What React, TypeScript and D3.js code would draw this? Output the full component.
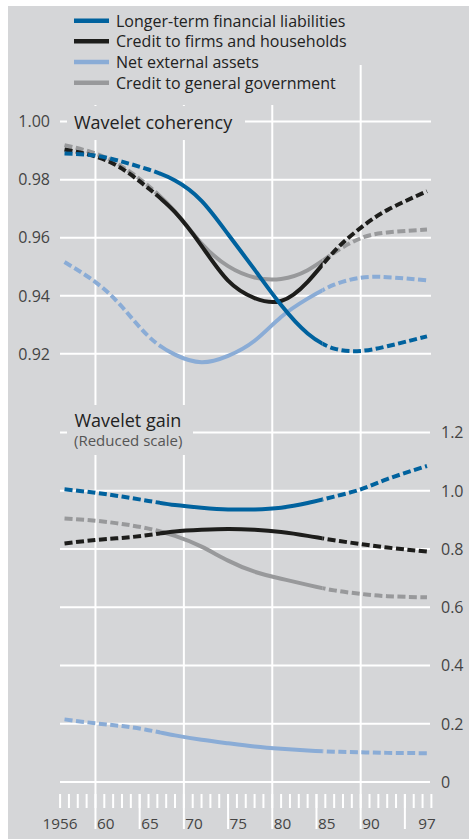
import React from "react";
import * as d3 from "d3";

// ---------- DATA ----------
const seriesNames = [
  "Longer-term financial liabilities",
  "Credit to firms and households",
  "Net external assets",
  "Credit to general government",
];
const seriesColors = ["#00629e", "#1d1d1b", "#8aacd6", "#98999b"];

const years = [1956.5, 1960, 1963, 1966, 1969, 1972, 1975, 1978, 1981, 1984, 1987, 1990, 1993, 1997.5];

// Wavelet coherency
const cohLongerTerm = [0.989, 0.9883, 0.9862, 0.9835, 0.9797, 0.9727, 0.9612, 0.949, 0.9368, 0.927, 0.9218, 0.921, 0.9226, 0.926];
const cohCreditFirms = [0.9904, 0.988, 0.9838, 0.977, 0.9688, 0.9572, 0.9452, 0.9392, 0.9382, 0.9448, 0.9553, 0.9634, 0.9695, 0.976];
const cohNetExternal = [0.9516, 0.9447, 0.9362, 0.926, 0.9197, 0.9171, 0.9193, 0.9245, 0.9327, 0.939, 0.9438, 0.9462, 0.9464, 0.9453];
const cohCreditGov = [0.9919, 0.989, 0.9845, 0.9778, 0.969, 0.958, 0.9502, 0.9463, 0.9458, 0.9488, 0.9548, 0.9598, 0.9618, 0.9628];

// Wavelet gain
const gainLongerTerm = [1.005, 0.993, 0.98, 0.965, 0.951, 0.942, 0.936, 0.936, 0.942, 0.958, 0.98, 1.005, 1.04, 1.085];
const gainCreditFirms = [0.819, 0.831, 0.838, 0.848, 0.86, 0.866, 0.869, 0.866, 0.858, 0.845, 0.83, 0.817, 0.805, 0.791];
const gainNetExternal = [0.215, 0.2015, 0.192, 0.178, 0.16, 0.145, 0.133, 0.122, 0.114, 0.108, 0.104, 0.102, 0.1, 0.099];
const gainCreditGov = [0.905, 0.897, 0.886, 0.87, 0.845, 0.808, 0.76, 0.722, 0.698, 0.677, 0.658, 0.646, 0.638, 0.634];

// solid (reliable) part of the estimates
const solidStart = 1967.3;
const solidEnd = 1985.7;

const cohTicks = [0.92, 0.94, 0.96, 0.98, 1.0];
const gainTicks = [0, 0.2, 0.4, 0.6, 0.8, 1.0, 1.2];
const gainTickLabels = ["0", "0.2", "0.4", "0.6", "0.8", "1.0", "1.2"];
const gridYears = [1960, 1970, 1980, 1990];
const midYears = [1965, 1975, 1985, 1995];
const yearLabels = ["1956", "60", "65", "70", "75", "80", "85", "90", "97"];
const yearLabelYears = [1956, 1960, 1965, 1970, 1975, 1980, 1985, 1990, 1997];

// ---------- LAYOUT ----------
const W = 469;
const H = 839;
const BG = "#d5d6d8";
const TEXT = "#222222";
const FONT = "'Open Sans', 'Noto Sans', sans-serif";

export default function App() {
  const x = d3.scaleLinear().domain([1956, 1998]).range([60.1, 431.4]);
  const yTop = d3.scaleLinear().domain([0.92, 1.0]).range([353.8, 121.6]);
  const yBot = d3.scaleLinear().domain([0, 1.2]).range([782, 432.5]);

  const cohSeries = [cohLongerTerm, cohCreditFirms, cohNetExternal, cohCreditGov];
  const gainSeries = [gainLongerTerm, gainCreditFirms, gainNetExternal, gainCreditGov];
  const drawOrder = [3, 2, 1, 0];

  const lineFor = (y: d3.ScaleLinear<number, number>) =>
    d3
      .line<number>()
      .x((_, i) => x(years[i]))
      .y((d) => y(d))
      .curve(d3.curveNatural);

  const topLine = lineFor(yTop);
  const botLine = lineFor(yBot);

  const allTickYears = d3.range(1956, 1999);
  const gx0 = 60;
  const gx1 = 431;

  const xs = x(solidStart);
  const xe = x(solidEnd);

  const renderSeries = (vals: number[], gen: any, idx: number, key: string) => (
    <g key={key}>
      <path
        d={gen(vals) || ""}
        fill="none"
        stroke={seriesColors[idx]}
        strokeWidth={4}
        strokeDasharray="8 3.5"
        clipPath="url(#dashClip)"
      />
      <path
        d={gen(vals) || ""}
        fill="none"
        stroke={seriesColors[idx]}
        strokeWidth={4}
        clipPath="url(#solidClip)"
      />
    </g>
  );

  const labelX = (yr: number, i: number) => {
    if (i === 0) return { x: x(yr), anchor: "middle" };
    if (i === yearLabelYears.length - 1) return { x: x(yr + 0.5), anchor: "middle" };
    return { x: x(yr) + 1.5, anchor: "start" };
  };

  return (
    <div style={{ position: "absolute", left: 0, top: 0, width: W, height: H }}>
      <svg width={W} height={H} style={{ display: "block", fontFamily: FONT }}>
        <defs>
          <clipPath id="solidClip">
            <rect x={xs} y={0} width={xe - xs} height={H} />
          </clipPath>
          <clipPath id="dashClip">
            <rect x={0} y={0} width={xs} height={H} />
            <rect x={xe} y={0} width={W - xe} height={H} />
          </clipPath>
        </defs>
        <rect x={0} y={0} width={W} height={H} fill="#ffffff" />
        <rect x={8} y={6} width={W - 8} height={H - 6} fill={BG} />

        {/* vertical grid lines */}
        {gridYears.map((yr) => (
          <line key={"vg" + yr} x1={x(yr)} x2={x(yr)} y1={65} y2={829} stroke="#fff" strokeWidth={2} />
        ))}
        {/* mid-decade ticks */}
        {midYears.map((yr) => (
          <line key={"mt" + yr} x1={x(yr)} x2={x(yr)} y1={794} y2={829} stroke="#fff" strokeWidth={2} />
        ))}
        {/* yearly ticks */}
        {allTickYears.map((yr) => (
          <line key={"yt" + yr} x1={x(yr)} x2={x(yr)} y1={794} y2={808} stroke="#fff" strokeWidth={2} />
        ))}

        {/* horizontal grid lines */}
        {cohTicks.map((v) => (
          <line key={"ht" + v} x1={gx0} x2={gx1} y1={yTop(v)} y2={yTop(v)} stroke="#fff" strokeWidth={2} />
        ))}
        {gainTicks.map((v) => (
          <line key={"hb" + v} x1={gx0} x2={gx1 - 1} y1={yBot(v)} y2={yBot(v)} stroke="#fff" strokeWidth={2} />
        ))}

        {/* background boxes behind legend and titles */}
        <rect x={60} y={6} width={292} height={99} fill={BG} />
        <rect x={67} y={106} width={178} height={34} fill={BG} />
        <rect x={67} y={405} width={126} height={50} fill={BG} />

        {/* left axis labels */}
        {cohTicks.map((v) => (
          <text key={"lt" + v} x={50} y={yTop(v)} dy="0.36em" textAnchor="end" fontSize={16} fill="#444">
            {v.toFixed(2)}
          </text>
        ))}
        {/* right axis labels */}
        {gainTicks.map((v, i) => (
          <text key={"rt" + v} x={441} y={yBot(v)} dy="0.36em" textAnchor="start" fontSize={16} fill="#444">
            {gainTickLabels[i]}
          </text>
        ))}
        {/* bottom year labels */}
        {yearLabels.map((lab, i) => {
          const p = labelX(yearLabelYears[i], i);
          return (
            <text key={"yl" + lab} x={p.x} y={828.5} textAnchor={p.anchor as any} fontSize={15.3} fill="#444">
              {lab}
            </text>
          );
        })}

        {/* titles */}
        <text x={74} y={128.5} fontSize={18} fill={TEXT}>
          Wavelet coherency
        </text>
        <text x={74.5} y={427} fontSize={18} fill={TEXT}>
          Wavelet gain
        </text>
        <text x={74} y={446} fontSize={15} fill="#555">
          (Reduced scale)
        </text>

        {/* series */}
        {drawOrder.map((i) => renderSeries(cohSeries[i], topLine, i, "c" + i))}
        {drawOrder.map((i) => renderSeries(gainSeries[i], botLine, i, "g" + i))}

        {/* legend */}
        {seriesNames.map((name, i) => {
          const by = 26.7 + i * 20.67;
          return (
            <g key={"lg" + i}>
              <line x1={74} x2={109} y1={by - 6} y2={by - 6} stroke={seriesColors[i]} strokeWidth={4.5} />
              <text x={116} y={by} fontSize={16} fill={TEXT}>
                {name}
              </text>
            </g>
          );
        })}
      </svg>
    </div>
  );
}
